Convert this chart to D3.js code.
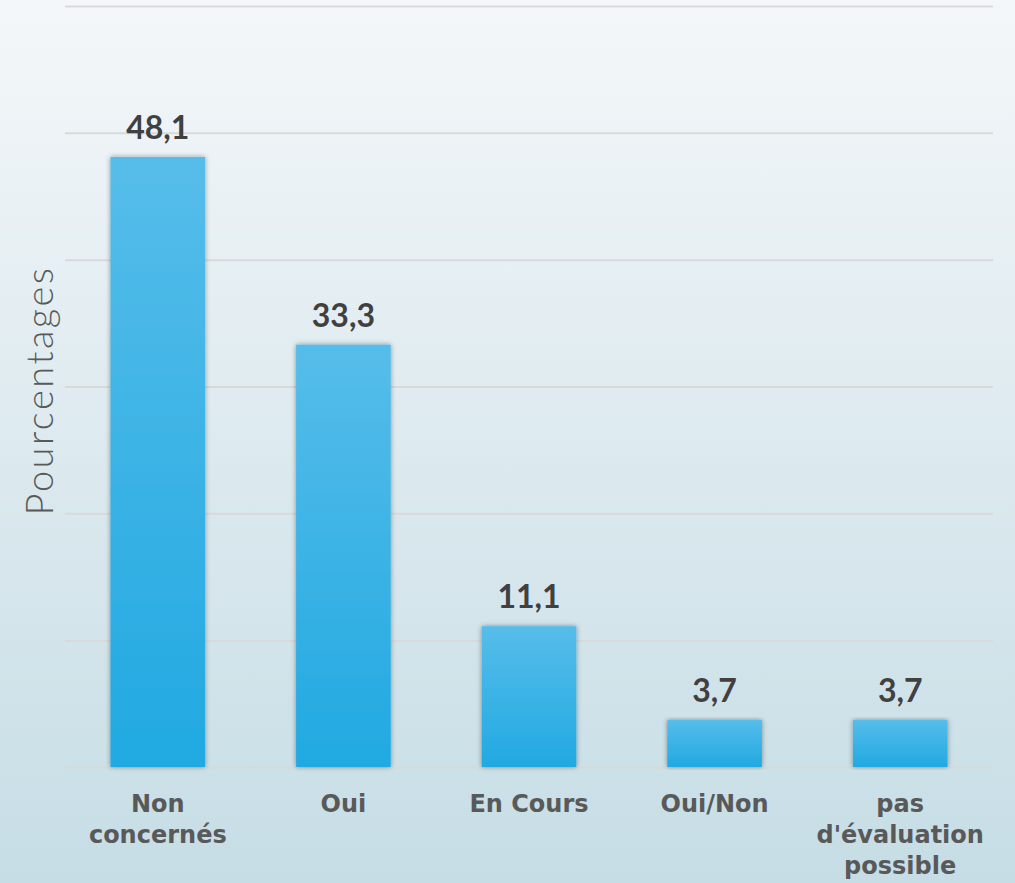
<!DOCTYPE html>
<html>
<head>
<meta charset="utf-8">
<script src="https://cdn.jsdelivr.net/npm/d3@7"></script>
<style>
  body { margin: 0; padding: 0; overflow: hidden; }
  svg { display: block; }
</style>
</head>
<body>
<div id="chart"></div>
<script>
// Data
var categories = [["Non", "concernés"], ["Oui"], ["En Cours"], ["Oui/Non"], ["pas", "d'évaluation", "possible"]];
var values = [48.1, 33.3, 11.1, 3.7, 3.7];
var gridTicks = [0, 10, 20, 30, 40, 50, 60];

// Set up the chart
var svgWidth = 1015;
var svgHeight = 883;

var margin = { top: 6, right: 22, bottom: 116, left: 65 };
var width = svgWidth - margin.left - margin.right;
var height = svgHeight - margin.top - margin.bottom;

var svg = d3.select("#chart")
  .append("svg")
  .attr("width", svgWidth)
  .attr("height", svgHeight);

var defs = svg.append("defs");

// background gradient
var bg = defs.append("linearGradient")
  .attr("id", "bgGrad")
  .attr("x1", 0).attr("y1", 0).attr("x2", 0).attr("y2", 1);
bg.append("stop").attr("offset", "0%").attr("stop-color", "#f4f7f9");
bg.append("stop").attr("offset", "100%").attr("stop-color", "#c6dde5");

// bar gradient
var barGrad = defs.append("linearGradient")
  .attr("id", "barGrad")
  .attr("x1", 0).attr("y1", 0).attr("x2", 0).attr("y2", 1);
barGrad.append("stop").attr("offset", "0%").attr("stop-color", "#56bdea");
barGrad.append("stop").attr("offset", "100%").attr("stop-color", "#21a9e1");

var shadow = defs.append("filter")
  .attr("id", "barShadow")
  .attr("x", "-20%").attr("y", "-5%").attr("width", "140%").attr("height", "110%");
shadow.append("feDropShadow")
  .attr("dx", 0).attr("dy", 0)
  .attr("stdDeviation", 2.5)
  .attr("flood-color", "#000")
  .attr("flood-opacity", 0.4);

svg.append("rect")
  .attr("width", svgWidth)
  .attr("height", svgHeight)
  .attr("fill", "url(#bgGrad)");

var chartGroup = svg.append("g")
  .attr("transform", `translate(${margin.left}, ${margin.top})`);

// Scales
var xScale = d3.scaleBand()
  .domain(d3.range(values.length))
  .range([0, width])
  .paddingInner(0.49)
  .paddingOuter(0.245);

var yScale = d3.scaleLinear()
  .domain([0, 60])
  .range([height, 0]);

// Gridlines
chartGroup.append("g")
  .attr("class", "grid")
  .call(d3.axisLeft(yScale).tickValues(gridTicks).tickSize(-width).tickFormat(""))
  .call(g => g.select(".domain").remove())
  .call(g => g.selectAll("line").attr("stroke", "#d9d9d9").attr("stroke-width", 2));

// Bars
chartGroup.selectAll(".bar")
  .data(values)
  .enter()
  .append("rect")
  .attr("class", "bar")
  .attr("x", (d, i) => xScale(i))
  .attr("y", d => yScale(d))
  .attr("width", xScale.bandwidth())
  .attr("height", d => height - yScale(d))
  .attr("fill", "url(#barGrad)")
  .attr("filter", "url(#barShadow)");

// Value labels
chartGroup.selectAll(".val")
  .data(values)
  .enter()
  .append("text")
  .attr("class", "val")
  .attr("x", (d, i) => xScale(i) + xScale.bandwidth() / 2)
  .attr("y", d => yScale(d) - 18)
  .attr("text-anchor", "middle")
  .attr("font-family", "Lato, sans-serif")
  .attr("font-weight", "bold")
  .attr("font-size", "32px")
  .attr("fill", "#404040")
  .text(d => String(d).replace(".", ","));

// Category labels
var catLabels = chartGroup.selectAll(".cat")
  .data(categories)
  .enter()
  .append("text")
  .attr("class", "cat")
  .attr("text-anchor", "middle")
  .attr("font-family", "'DejaVu Sans', sans-serif")
  .attr("font-weight", "bold")
  .attr("font-size", "24px")
  .attr("fill", "#595959")
  .attr("transform", (d, i) => `translate(${xScale(i) + xScale.bandwidth() / 2}, ${height + 45})`);

catLabels.selectAll("tspan")
  .data(d => d)
  .enter()
  .append("tspan")
  .attr("x", 0)
  .attr("y", (d, i) => i * 31)
  .text(d => d);

// Y-axis title
svg.append("text")
  .attr("transform", `translate(53, ${margin.top + height / 2 + 4}) rotate(-90)`)
  .attr("text-anchor", "middle")
  .attr("font-family", "Lato, sans-serif")
  .attr("font-weight", 300)
  .attr("font-size", "38px")
  .attr("letter-spacing", "2.5px")
  .attr("fill", "#595959")
  .text("Pourcentages");
</script>
</body>
</html>
